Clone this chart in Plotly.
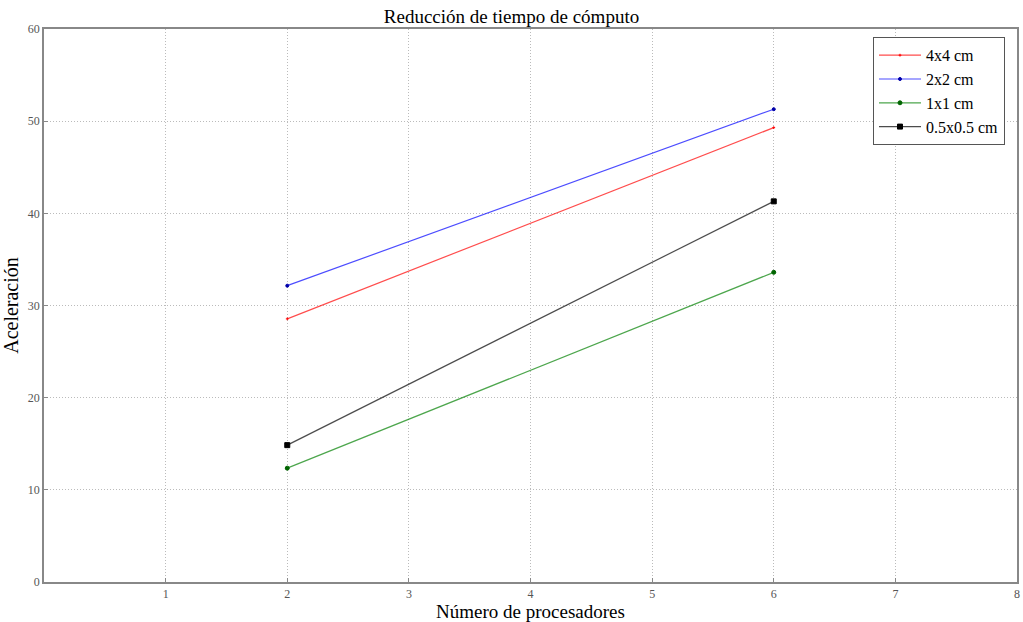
import plotly.graph_objects as go

procs = [2, 6]
s_4x4 = [28.55, 49.3]
s_2x2 = [32.15, 51.3]
s_1x1 = [12.35, 33.6]
s_05 = [14.85, 41.3]
names = ["4x4 cm", "2x2 cm", "1x1 cm", "0.5x0.5 cm"]
colors = ["rgba(255,0,0,0.7)", "rgba(0,0,255,0.7)", "rgba(0,128,0,0.7)", "rgba(0,0,0,0.7)"]
mcolors = ["red", "#0000aa", "#006400", "black"]
symbols = ["cross-thin", "circle", "circle", "square"]
msizes = [2, 3, 4, 5]
series = [s_4x4, s_2x2, s_1x1, s_05]

font = "Liberation Serif"
fig = go.Figure()
for n, s, c, mc, sym, ms in zip(names, series, colors, mcolors, symbols, msizes):
    fig.add_trace(go.Scatter(
        x=procs, y=s, name=n, mode="lines+markers",
        line=dict(color=c, width=1.2),
        marker=dict(color=mc, symbol=sym, size=ms, line=dict(color=mc, width=1)),
    ))

fig.update_layout(
    width=1023, height=622,
    margin=dict(l=44, r=6, t=29, b=40, autoexpand=False),
    paper_bgcolor="white", plot_bgcolor="white",
    font=dict(family=font, color="#333"),
    title=dict(text="Reducción de tiempo de cómputo", x=0.5, xanchor="center",
               y=0.985, yanchor="top", font=dict(size=19, color="black")),
    xaxis=dict(range=[0, 8], tickvals=[1, 2, 3, 4, 5, 6, 7, 8], automargin=False,
               showgrid=True, gridcolor="#bbb", griddash="1px,2px", gridwidth=1,
               showline=True, linecolor="#888", linewidth=1.5, mirror=True,
               zeroline=False, ticks="inside", ticklen=4, tickcolor="#888",
               ticklabeloverflow="allow",
               tickfont=dict(size=12, color="#555"),
               title=dict(text="Número de procesadores", font=dict(size=19, color="black"))),
    yaxis=dict(range=[0, 60], tickvals=[0, 10, 20, 30, 40, 50, 60], automargin=False,
               showgrid=True, gridcolor="#bbb", griddash="1px,2px", gridwidth=1,
               showline=True, linecolor="#888", linewidth=1.5, mirror=True,
               zeroline=False, ticks="inside", ticklen=4, tickcolor="#888",
               ticklabeloverflow="allow",
               tickfont=dict(size=12, color="#555"),
               title=dict(text="Aceleración", font=dict(size=20, color="black"))),
    legend=dict(x=0.852, y=0.985, xanchor="left", yanchor="top",
                bgcolor="white", bordercolor="#555", borderwidth=1,
                font=dict(size=16, color="black"), tracegroupgap=0,
                itemwidth=42),
    showlegend=True,
)

fig.write_html("out.html", config={"displayModeBar": False},
               post_script="document.body.style.margin='0';document.body.style.overflow='hidden';")
